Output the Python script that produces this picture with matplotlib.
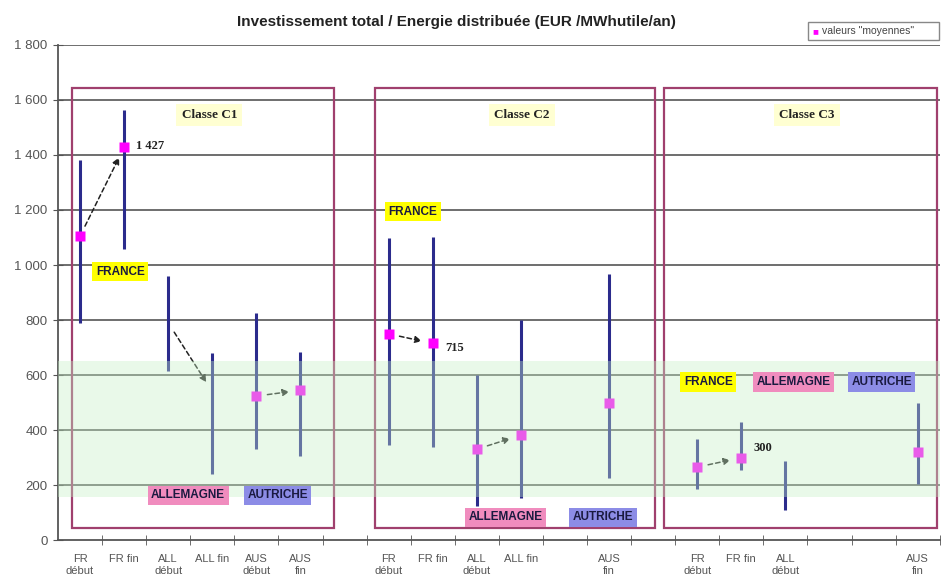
import matplotlib
matplotlib.use("Agg")
import matplotlib.pyplot as plt
from matplotlib.patches import Rectangle
from matplotlib.ticker import FuncFormatter

plt.rcParams['font.family'] = ['Liberation Sans', 'DejaVu Sans']

# categories (20 slots, blanks separate the three classes)
labels = ["FR\ndébut", "FR fin", "ALL\ndébut", "ALL fin", "AUS\ndébut", "AUS\nfin", "",
          "FR\ndébut", "FR fin", "ALL\ndébut", "ALL fin", "", "AUS\nfin", "",
          "FR\ndébut", "FR fin", "ALL\ndébut", "", "", "AUS\nfin"]

# min / max / moyenne (None = nothing drawn)
v_min = [790, 1058, 615, 240, 331, 305, None,
         345, 338, 124, 153, None, 225, None,
         185, 254, 109, None, None, 204]
v_max = [1382, 1564, 960, 680, 825, 683, None,
         1098, 1102, 600, 800, None, 967, None,
         367, 430, 287, None, None, 498]
v_moy = [1105, 1427, None, None, 524, 545, None,
         750, 715, 331, 382, None, 498, None,
         266, 300, None, None, None, 320]

# arrows between start/end values (index_from, y_from, index_to, y_to)
arrows = [(0, 1105, 1, 1427), (2, 790, 3, 540), (4, 524, 5, 545),
          (7, 750, 8, 715), (9, 331, 10, 382), (14, 266, 15, 300)]

# value labels (index, y, text)
val_labels = [(1, 1432, "1 427"), (8, 700, "715"), (15, 335, "300")]

# classes: (x_left, x_right, label)
classes = [(-0.18, 5.75, "Classe C1"), (6.68, 13.05, "Classe C2"), (13.25, 19.43, "Classe C3")]

# country labels: (x, y, text, colour)
countries = [(0.91, 975, "FRANCE", "#ffff00"), (2.45, 164, "ALLEMAGNE", "#f08cbe"),
             (4.48, 164, "AUTRICHE", "#8c8ce6"),
             (7.55, 1193, "FRANCE", "#ffff00"), (9.66, 84, "ALLEMAGNE", "#f08cbe"),
             (11.86, 84, "AUTRICHE", "#8c8ce6"),
             (14.25, 575, "FRANCE", "#ffff00"), (16.18, 575, "ALLEMAGNE", "#f08cbe"),
             (18.18, 575, "AUTRICHE", "#8c8ce6")]

band = (156, 652)

fig = plt.figure(figsize=(9.43, 5.81), dpi=100)
ax = fig.add_axes([0.0615, 0.07, 0.935, 0.853])
ax.set_xlim(-0.5, 19.5)
ax.set_ylim(0, 1800)

# grid
for g in range(200, 1801, 200):
    ax.axhline(g, color="#555555", lw=1.2, zorder=1)

# ranges
for i in range(len(labels)):
    if v_min[i] is not None:
        ax.plot([i, i], [v_min[i], v_max[i]], color="#2b2b8c", lw=2.2, zorder=3,
                solid_capstyle="butt")
    if v_moy[i] is not None:
        ax.plot(i, v_moy[i], "s", color="#ff00ff", ms=6.5, mec="none", zorder=4)

for a, ya, b, yb in arrows:
    ax.annotate("", xy=(b, yb), xytext=(a, ya),
                arrowprops=dict(arrowstyle="-|>", color="#222222", lw=1.1, ls=(0, (3, 2)),
                                shrinkA=8, shrinkB=8, mutation_scale=10), zorder=5)

for i, y, t in val_labels:
    ax.text(i + 0.28, y, t, fontsize=9, fontweight="bold", family="Liberation Serif",
            color="#222222", va="center", ha="left", zorder=8)

for x0, x1, t in classes:
    ax.add_patch(Rectangle((x0, 44), x1 - x0, 1600, fill=False, ec="#a0406e", lw=1.6, zorder=2))
    ax.text((x0 + x1) / 2 + 0.15, 1545, t, fontsize=9.5, fontweight="bold",
            family="Liberation Serif", color="#222222", ha="center", va="center", zorder=8,
            bbox=dict(boxstyle="square,pad=0.4", fc="#ffffd2", ec="none"))

# green band on top, translucent
ax.axhspan(band[0], band[1], color="#c6f0c6", alpha=0.38, lw=0, zorder=6)

for x, y, t, c in countries:
    ax.text(x, y, t, fontsize=8.5, fontweight="bold", color="#1a1a40", ha="center", va="center",
            zorder=8, bbox=dict(boxstyle="square,pad=0.3", fc=c, ec="none"))

# axes styling
for s in ["top", "right"]:
    ax.spines[s].set_visible(False)
ax.spines["left"].set_color("#555555")
ax.spines["bottom"].set_color("#555555")
ax.spines["left"].set_linewidth(1.3)
ax.spines["bottom"].set_linewidth(1.3)

ax.set_yticks(range(0, 1801, 200))
ax.yaxis.set_major_formatter(FuncFormatter(lambda v, p: f"{int(v):,}".replace(",", " ")))
ax.tick_params(axis="y", direction="inout", length=7, labelsize=9.5, labelcolor="#555555",
               color="#555555", pad=4)

ax.set_xticks(range(len(labels)))
ax.set_xticklabels(labels, fontsize=8, color="#555555", linespacing=1.25, va="top")
ax.set_xticks([k - 0.5 for k in range(1, 21)], minor=True)
ax.tick_params(axis="x", which="major", length=0, pad=10)
ax.tick_params(axis="x", which="minor", direction="inout", length=7, color="#555555")

fig.text(0.484, 0.962, "Investissement total / Energie distribuée (EUR /MWhutile/an)",
         fontsize=11, fontweight="bold", color="#222222", ha="center", va="center")

# legend box
fig.add_artist(Rectangle((0.857, 0.931), 0.139, 0.031, transform=fig.transFigure,
                         fill=True, fc="white", ec="#888888", lw=1))
fig.text(0.861, 0.946, "\u25a0", fontsize=7, color="#ff00ff", ha="left", va="center")
fig.text(0.872, 0.946, "valeurs \"moyennes\"", fontsize=7.5, color="#444444",
         ha="left", va="center")

fig.savefig("out.png", dpi=100)
